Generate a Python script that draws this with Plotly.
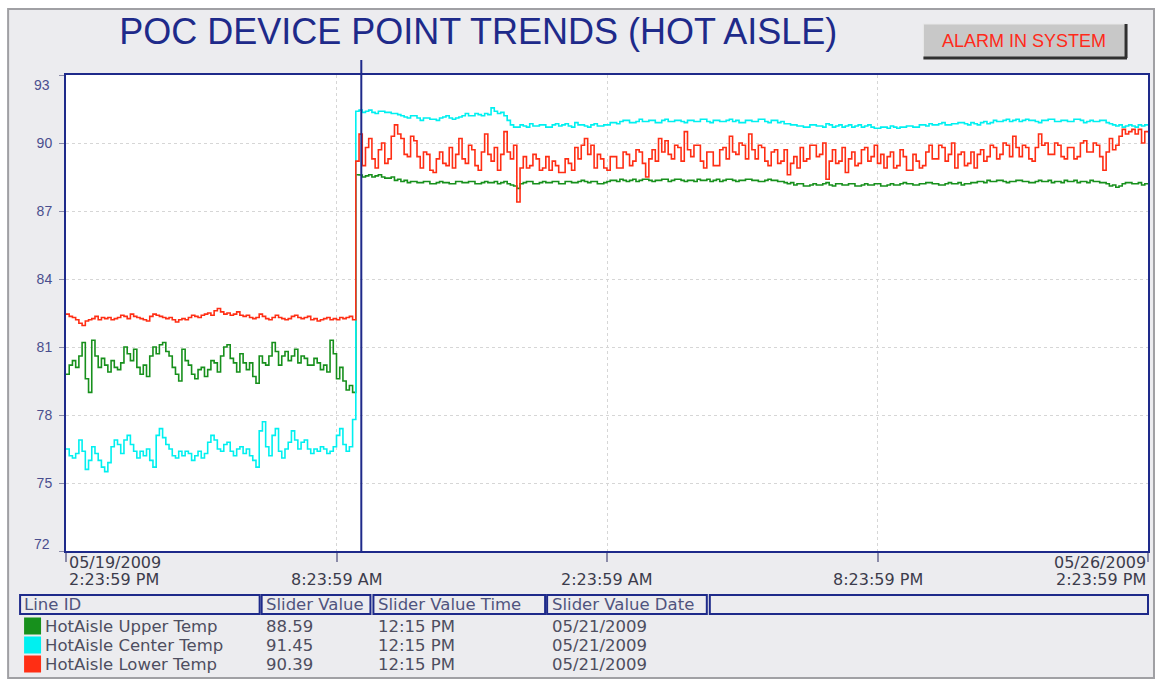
import pandas as pd
import plotly.graph_objects as go

# ---------------- data ----------------
title_text = "POC DEVICE POINT TRENDS (HOT AISLE)"
alarm_text = "ALARM IN SYSTEM"

start_time = "2009-05-19 14:23:59"
end_time = "2009-05-26 14:23:59"
times = pd.date_range(start_time, end_time, freq="30min")  # 30-minute samples

upper_temp = [
    79.8, 80.2, 80.4, 80.1, 80.6, 81.2, 79.6, 79.0, 81.3, 80.6,
    80.1, 80.5, 80.2, 79.9, 80.4, 80.1, 80.0, 80.3, 81.0, 80.7,
    80.4, 80.9, 80.1, 79.8, 80.2, 79.7, 80.6, 81.0, 80.7, 81.1,
    81.2, 80.8, 80.6, 80.1, 79.8, 79.5, 80.9, 80.4, 80.2, 79.8,
    79.6, 80.0, 80.1, 79.7, 80.0, 80.4, 80.3, 79.9, 80.6, 81.0,
    81.1, 80.5, 80.3, 79.9, 80.7, 80.3, 80.0, 80.3, 79.7, 79.4,
    80.6, 80.3, 80.2, 80.6, 81.2, 80.8, 80.2, 80.6, 80.8, 80.4,
    80.6, 80.9, 80.3, 80.6, 80.5, 80.2, 80.2, 80.5, 80.3, 80.0,
    80.2, 79.9, 81.3, 80.7, 79.6, 80.1, 79.5, 79.1, 79.3, 79.0,
    88.6, 88.59, 88.5, 88.55, 88.6, 88.5, 88.55, 88.6, 88.5, 88.45,
    88.45, 88.5, 88.35, 88.4, 88.3, 88.35, 88.25, 88.3, 88.3, 88.25,
    88.25, 88.3, 88.3, 88.2, 88.2, 88.25, 88.3, 88.25, 88.25, 88.2,
    88.2, 88.3, 88.3, 88.25, 88.25, 88.3, 88.3, 88.2, 88.2, 88.25,
    88.3, 88.25, 88.25, 88.3, 88.2, 88.25, 88.3, 88.2, 88.15, 88.1,
    88.0, 88.2, 88.25, 88.3, 88.3, 88.2, 88.2, 88.25, 88.3, 88.25,
    88.25, 88.3, 88.3, 88.2, 88.2, 88.3, 88.3, 88.25, 88.25, 88.3,
    88.35, 88.3, 88.25, 88.3, 88.3, 88.2, 88.2, 88.25, 88.3, 88.35,
    88.35, 88.3, 88.4, 88.35, 88.3, 88.35, 88.4, 88.3, 88.35, 88.4,
    88.4, 88.35, 88.3, 88.35, 88.35, 88.4, 88.4, 88.3, 88.35, 88.4,
    88.4, 88.35, 88.3, 88.35, 88.35, 88.3, 88.4, 88.35, 88.35, 88.4,
    88.3, 88.35, 88.4, 88.3, 88.35, 88.4, 88.4, 88.35, 88.3, 88.35,
    88.35, 88.4, 88.4, 88.35, 88.35, 88.3, 88.3, 88.35, 88.4, 88.35,
    88.35, 88.3, 88.3, 88.25, 88.2, 88.25, 88.15, 88.2, 88.2, 88.1,
    88.1, 88.15, 88.2, 88.15, 88.15, 88.2, 88.25, 88.15, 88.1, 88.2,
    88.2, 88.15, 88.15, 88.2, 88.2, 88.1, 88.1, 88.15, 88.2, 88.15,
    88.15, 88.2, 88.2, 88.1, 88.1, 88.15, 88.2, 88.15, 88.15, 88.2,
    88.25, 88.2, 88.2, 88.15, 88.15, 88.2, 88.2, 88.25, 88.25, 88.2,
    88.2, 88.15, 88.15, 88.2, 88.25, 88.2, 88.2, 88.25, 88.15, 88.2,
    88.2, 88.25, 88.25, 88.3, 88.3, 88.25, 88.35, 88.3, 88.3, 88.35,
    88.35, 88.3, 88.25, 88.3, 88.3, 88.35, 88.35, 88.3, 88.3, 88.25,
    88.25, 88.3, 88.35, 88.3, 88.3, 88.35, 88.25, 88.3, 88.3, 88.25,
    88.35, 88.3, 88.3, 88.35, 88.25, 88.3, 88.3, 88.25, 88.35, 88.3,
    88.3, 88.25, 88.25, 88.2, 88.1, 88.15, 88.05, 88.1, 88.2, 88.25,
    88.25, 88.2, 88.2, 88.25, 88.15, 88.2, 88.2,
]

center_temp = [
    76.5, 76.2, 76.1, 76.3, 76.9, 76.4, 75.6, 76.0, 76.6, 76.3,
    76.0, 75.7, 75.5, 75.9, 76.6, 76.9, 76.7, 76.3, 76.9, 77.1,
    76.7, 76.4, 76.1, 76.4, 76.2, 76.5, 76.0, 75.7, 77.1, 77.4,
    77.0, 76.7, 76.5, 76.2, 76.1, 76.4, 76.2, 76.4, 76.3, 76.0,
    76.2, 76.4, 76.1, 76.3, 76.8, 77.1, 76.9, 76.5, 76.4, 76.7,
    76.8, 76.4, 76.2, 76.5, 76.6, 76.3, 76.5, 76.2, 76.0, 75.7,
    77.3, 77.7, 76.6, 76.2, 77.1, 77.4, 76.4, 76.1, 76.5, 76.8,
    77.3, 76.9, 76.5, 76.8, 76.9, 76.5, 76.3, 76.5, 76.4, 76.6,
    76.5, 76.3, 76.4, 76.6, 77.1, 77.4, 76.7, 76.4, 76.6, 77.8,
    91.4, 91.45, 91.35, 91.4, 91.45, 91.35, 91.3, 91.4, 91.4, 91.35,
    91.35, 91.3, 91.3, 91.25, 91.2, 91.15, 91.1, 91.2, 91.2, 91.1,
    91.0, 91.1, 91.1, 91.05, 91.05, 91.0, 91.1, 91.15, 91.2, 91.1,
    91.05, 91.1, 91.15, 91.2, 91.3, 91.2, 91.2, 91.3, 91.25, 91.2,
    91.3, 91.25, 91.55, 91.4, 91.3, 91.35, 91.2, 91.0, 90.8, 90.7,
    90.7, 90.8, 90.75, 90.7, 90.85, 90.75, 90.75, 90.8, 90.8, 90.7,
    90.7, 90.8, 90.85, 90.75, 90.8, 90.85, 90.75, 90.7, 90.9, 90.8,
    90.8, 90.75, 90.7, 90.8, 90.85, 90.75, 90.75, 90.8, 90.8, 90.9,
    90.9, 90.85, 90.95, 91.0, 91.0, 90.9, 90.9, 90.95, 91.05, 90.95,
    90.95, 91.0, 91.0, 90.9, 90.9, 91.0, 91.05, 90.95, 90.95, 91.0,
    91.0, 90.95, 90.9, 91.0, 91.0, 90.95, 90.95, 91.05, 91.05, 90.95,
    90.9, 91.0, 91.0, 90.95, 90.95, 91.0, 91.05, 90.95, 91.0, 90.9,
    90.9, 91.0, 91.0, 90.95, 90.95, 91.05, 91.05, 90.95, 90.9, 91.0,
    91.0, 90.9, 90.95, 90.85, 90.85, 90.8, 90.8, 90.75, 90.75, 90.7,
    90.7, 90.8, 90.8, 90.75, 90.75, 90.7, 90.85, 90.8, 90.7, 90.75,
    90.8, 90.7, 90.75, 90.8, 90.7, 90.75, 90.8, 90.7, 90.75, 90.8,
    90.7, 90.65, 90.65, 90.7, 90.7, 90.65, 90.75, 90.7, 90.65, 90.7,
    90.7, 90.75, 90.75, 90.7, 90.7, 90.8, 90.8, 90.75, 90.85, 90.8,
    90.8, 90.85, 90.9, 90.8, 90.8, 90.85, 90.85, 90.9, 90.9, 90.85,
    90.8, 90.9, 90.85, 90.8, 90.9, 90.95, 90.85, 90.9, 91.0, 90.95,
    90.95, 91.0, 91.05, 90.95, 91.0, 91.05, 90.95, 91.0, 91.05, 91.0,
    91.0, 90.95, 90.9, 91.0, 91.0, 91.05, 91.05, 90.95, 90.95, 91.0,
    91.0, 90.95, 90.95, 91.05, 91.05, 91.0, 90.9, 90.95, 91.0, 90.95,
    90.95, 91.0, 91.0, 90.9, 90.85, 90.8, 90.75, 90.8, 90.7, 90.75,
    90.8, 90.75, 90.7, 90.8, 90.75, 90.8, 90.8,
]

lower_temp = [
    82.45, 82.35, 82.3, 82.2, 82.05, 81.95, 82.15, 82.2, 82.25, 82.35,
    82.2, 82.3, 82.25, 82.3, 82.2, 82.25, 82.3, 82.4, 82.35, 82.25,
    82.45, 82.35, 82.3, 82.25, 82.2, 82.15, 82.35, 82.45, 82.4, 82.35,
    82.3, 82.25, 82.3, 82.2, 82.1, 82.2, 82.25, 82.2, 82.3, 82.4,
    82.35, 82.3, 82.4, 82.45, 82.5, 82.4, 82.6, 82.7, 82.55, 82.45,
    82.5, 82.4, 82.45, 82.55, 82.4, 82.35, 82.4, 82.3, 82.25, 82.3,
    82.45, 82.35, 82.25, 82.2, 82.3, 82.4, 82.3, 82.25, 82.2, 82.25,
    82.35, 82.4, 82.3, 82.25, 82.3, 82.35, 82.2, 82.25, 82.15, 82.2,
    82.25, 82.3, 82.2, 82.25, 82.2, 82.3, 82.25, 82.3, 82.35, 82.2,
    89.2, 90.39, 89.0, 89.8, 90.2, 89.3, 88.9, 89.7, 90.0, 89.1,
    89.3, 90.3, 90.8, 90.4, 90.2, 89.5, 89.4, 90.3, 90.1, 89.4,
    88.9, 89.6, 89.5, 88.8, 88.7, 89.3, 89.6, 89.1, 89.0, 89.8,
    88.9, 89.5, 90.2, 89.3, 89.1, 89.9, 89.7, 89.0, 88.8, 89.6,
    90.4, 89.5, 89.2, 89.8, 88.8, 89.5, 90.5, 89.6, 89.3, 89.9,
    87.4, 88.9, 89.4, 88.9, 89.0, 89.5, 89.3, 88.8, 88.9, 89.4,
    88.8, 89.2, 89.0, 88.7, 88.7, 89.3, 89.1, 88.8, 89.8, 89.3,
    89.9, 90.2, 89.5, 89.9, 88.9, 89.5, 89.3, 88.9, 88.8, 89.4,
    89.4, 88.9, 88.9, 89.6, 89.5, 89.0, 89.2, 89.7, 89.6, 89.1,
    88.5, 89.3, 89.7, 89.2, 90.2, 89.6, 90.1, 89.5, 89.3, 89.9,
    89.8, 89.2, 90.5, 89.7, 89.4, 89.9, 89.9, 89.2, 88.9, 89.6,
    89.6, 89.0, 89.0, 89.7, 89.8, 89.3, 90.3, 89.6, 89.5, 90.0,
    89.9, 89.3, 90.4, 89.7, 89.3, 89.9, 89.8, 89.2, 89.0, 89.6,
    89.7, 89.1, 89.2, 89.7, 88.6, 89.1, 89.4, 88.9, 89.8, 89.2,
    89.3, 89.9, 89.9, 89.4, 89.5, 90.0, 88.4, 89.2, 89.7, 89.1,
    89.2, 89.8, 88.7, 89.3, 89.6, 89.0, 89.1, 89.7, 89.8, 89.2,
    89.4, 89.9, 89.1, 89.5, 88.9, 89.4, 89.6, 88.9, 89.0, 89.7,
    89.4, 88.8, 88.8, 89.5, 89.2, 88.9, 89.0, 89.6, 89.9, 89.3,
    89.3, 89.9, 89.8, 89.2, 89.5, 90.0, 88.9, 89.5, 89.6, 89.0,
    89.1, 89.6, 88.9, 89.5, 89.7, 89.2, 89.4, 89.9, 89.8, 89.3,
    89.5, 90.0, 89.9, 89.4, 90.3, 89.8, 89.4, 89.9, 89.8, 89.3,
    89.2, 89.8, 90.4, 89.9, 90.0, 89.5, 89.5, 90.0, 89.9, 89.4,
    89.3, 89.8, 89.8, 89.3, 89.4, 90.0, 90.1, 89.6, 89.6, 90.0,
    89.9, 89.4, 88.8, 89.6, 90.2, 89.7, 89.9, 90.3, 90.6, 90.4,
    90.5, 90.6, 90.4, 90.6, 90.0, 90.5, 90.5,
]

series_names = ["HotAisle Upper Temp", "HotAisle Center Temp", "HotAisle Lower Temp"]
series_colors = ["#17901C", "#00F0F0", "#FF2E14"]
slider_values = ["88.59", "91.45", "90.39"]
slider_times = ["12:15 PM", "12:15 PM", "12:15 PM"]
slider_dates = ["05/21/2009", "05/21/2009", "05/21/2009"]
slider_time = "2009-05-21 12:15:00"

y_ticks = [72, 75, 78, 81, 84, 87, 90, 93]
x_tick_times = ["2009-05-19 14:23:59", "2009-05-21 08:23:59", "2009-05-23 02:23:59",
                "2009-05-24 20:23:59", "2009-05-26 14:23:59"]
x_tick_line1 = ["05/19/2009", "", "", "", "05/26/2009"]
x_tick_line2 = ["2:23:59 PM", "8:23:59 AM", "2:23:59 AM", "8:23:59 PM", "2:23:59 PM"]
table_headers = ["Line ID", "Slider Value", "Slider Value Time", "Slider Value Date"]

for s in (upper_temp, center_temp, lower_temp):
    assert len(s) == len(times), (len(s), len(times))

# ---------------- layout helpers ----------------
W, H = 1159, 681
PL, PR, PT, PB = 66, 1150, 75, 551  # plot area in pixels


def px(p):
    return (p - PL) / (PR - PL)


def py(p):
    return (PB - p) / (PB - PT)


NAVY = "#1E2A8A"
FONT = "Liberation Sans, Arial, sans-serif"
WIDE = "DejaVu Sans, sans-serif"

fig = go.Figure()
series = [upper_temp, center_temp, lower_temp]
for name, vals, col in zip(series_names, series, series_colors):
    fig.add_trace(go.Scatter(x=times, y=vals, mode="lines", name=name,
                             line=dict(color=col, width=1.6, shape="hv"),
                             showlegend=False, hoverinfo="skip"))

shapes = []
# grey panel + white plot background
shapes.append(dict(type="rect", xref="paper", yref="paper", layer="below",
                   x0=px(8), x1=px(1156), y0=py(678), y1=py(9),
                   fillcolor="#ECECEF", line=dict(color="#A0A0A4", width=2)))
shapes.append(dict(type="rect", xref="paper", yref="paper", layer="below",
                   x0=0, x1=1, y0=0, y1=1, fillcolor="white", line=dict(width=0)))
# slider line
shapes.append(dict(type="line", xref="x", yref="paper", x0=slider_time, x1=slider_time,
                   y0=0, y1=py(60), line=dict(color=NAVY, width=2)))
# alarm button
shapes.append(dict(type="rect", xref="paper", yref="paper", x0=px(925), x1=px(1128),
                   y0=py(58), y1=py(24), fillcolor="#C8C8C8", line=dict(color="#E8E8E8", width=1)))
shapes.append(dict(type="line", xref="paper", yref="paper", x0=px(1128), x1=px(1128),
                   y0=py(58), y1=py(24), line=dict(color="#303030", width=3)))
shapes.append(dict(type="line", xref="paper", yref="paper", x0=px(925), x1=px(1129),
                   y0=py(58), y1=py(58), line=dict(color="#303030", width=3)))
# table header cells
cells = [(20, 260), (262, 371), (374, 546), (548, 708), (711, 1150)]
for a, b in cells:
    shapes.append(dict(type="rect", xref="paper", yref="paper", x0=px(a), x1=px(b),
                       y0=py(614), y1=py(595), line=dict(color=NAVY, width=2)))
# colour swatches
row_y = [626, 645, 664]
for ry, col in zip(row_y, series_colors):
    shapes.append(dict(type="rect", xref="paper", yref="paper", x0=px(24), x1=px(41),
                       y0=py(ry + 8.5), y1=py(ry - 8.5), fillcolor=col, line=dict(width=0)))

ann = []
ann.append(dict(text=alarm_text, xref="paper", yref="paper", x=px(1026), y=py(41),
                showarrow=False, font=dict(family=FONT, size=18, color="#FF2A1A"),
                xanchor="center", yanchor="middle"))
# y end labels (kept inside the frame like the original)
for val, ypix in [(93, 85), (72, 544)]:
    ann.append(dict(text=str(val), xref="paper", yref="paper", x=px(52), y=py(ypix),
                    showarrow=False, font=dict(family=FONT, size=14, color="#4A4E8E"),
                    xanchor="right", yanchor="middle"))
# x labels
for i, (t, l1, l2) in enumerate(zip(x_tick_times, x_tick_line1, x_tick_line2)):
    anchor = "left" if i == 0 else ("right" if i == len(x_tick_times) - 1 else "center")
    xs = 1 if i == 0 else 0
    if l1:
        ann.append(dict(text=l1, xref="x", yref="paper", x=t, y=py(562), xshift=xs,
                        showarrow=False, font=dict(family=WIDE, size=16, color="#3C3C4C"),
                        xanchor=anchor, yanchor="middle"))
    ann.append(dict(text=l2, xref="x", yref="paper", x=t, y=py(579), xshift=xs,
                    showarrow=False, font=dict(family=WIDE, size=16, color="#3C3C4C"),
                    xanchor=anchor, yanchor="middle"))
# table header text
col_x = [22, 264, 377, 551]
for cx, h in zip(col_x, table_headers):
    ann.append(dict(text=h, xref="paper", yref="paper", x=px(cx), y=py(604.5),
                    showarrow=False, font=dict(family=WIDE, size=16.5, color="#50547E"),
                    xanchor="left", yanchor="middle"))
# table rows
for ry, nm, v, tm, dt in zip(row_y, series_names, slider_values, slider_times, slider_dates):
    for cx, txt in zip([43, 264, 377, 551], [nm, v, tm, dt]):
        ann.append(dict(text=txt, xref="paper", yref="paper", x=px(cx), y=py(ry),
                        showarrow=False, font=dict(family=WIDE, size=16.5, color="#4E4E60"),
                        xanchor="left", yanchor="middle"))

fig.update_layout(
    width=W, height=H,
    margin=dict(l=PL, r=W - PR, t=PT, b=H - PB),
    paper_bgcolor="white", plot_bgcolor="white",
    title=dict(text=title_text, x=px(479), xref="paper", xanchor="center",
               y=1 - 31 / H, yanchor="middle",
               font=dict(family=FONT, size=36, color=NAVY)),
    shapes=shapes, annotations=ann,
    xaxis=dict(type="date", range=[start_time, end_time], tickvals=x_tick_times,
               showticklabels=False, ticks="outside", ticklen=9, tickwidth=1.5,
               tickcolor="#8A8AA8", showgrid=True, gridcolor="#D6D6D6", griddash="3px,3px",
               gridwidth=1, showline=True, mirror=True, linecolor=NAVY, linewidth=2,
               zeroline=False),
    yaxis=dict(range=[72, 93], tickvals=y_ticks,
               ticktext=["" if v in (72, 93) else str(v) for v in y_ticks],
               ticks="outside", ticklen=5, tickcolor="#8A8AA8", ticklabelstandoff=4,
               tickfont=dict(family=FONT, size=14, color="#4A4E8E"),
               showgrid=True, gridcolor="#D6D6D6", griddash="3px,3px", gridwidth=1,
               showline=True, mirror=True, linecolor=NAVY, linewidth=2, zeroline=False),
)

fig.write_html("out.html", config={"displayModeBar": False},
               post_script="document.body.style.margin='0';")
